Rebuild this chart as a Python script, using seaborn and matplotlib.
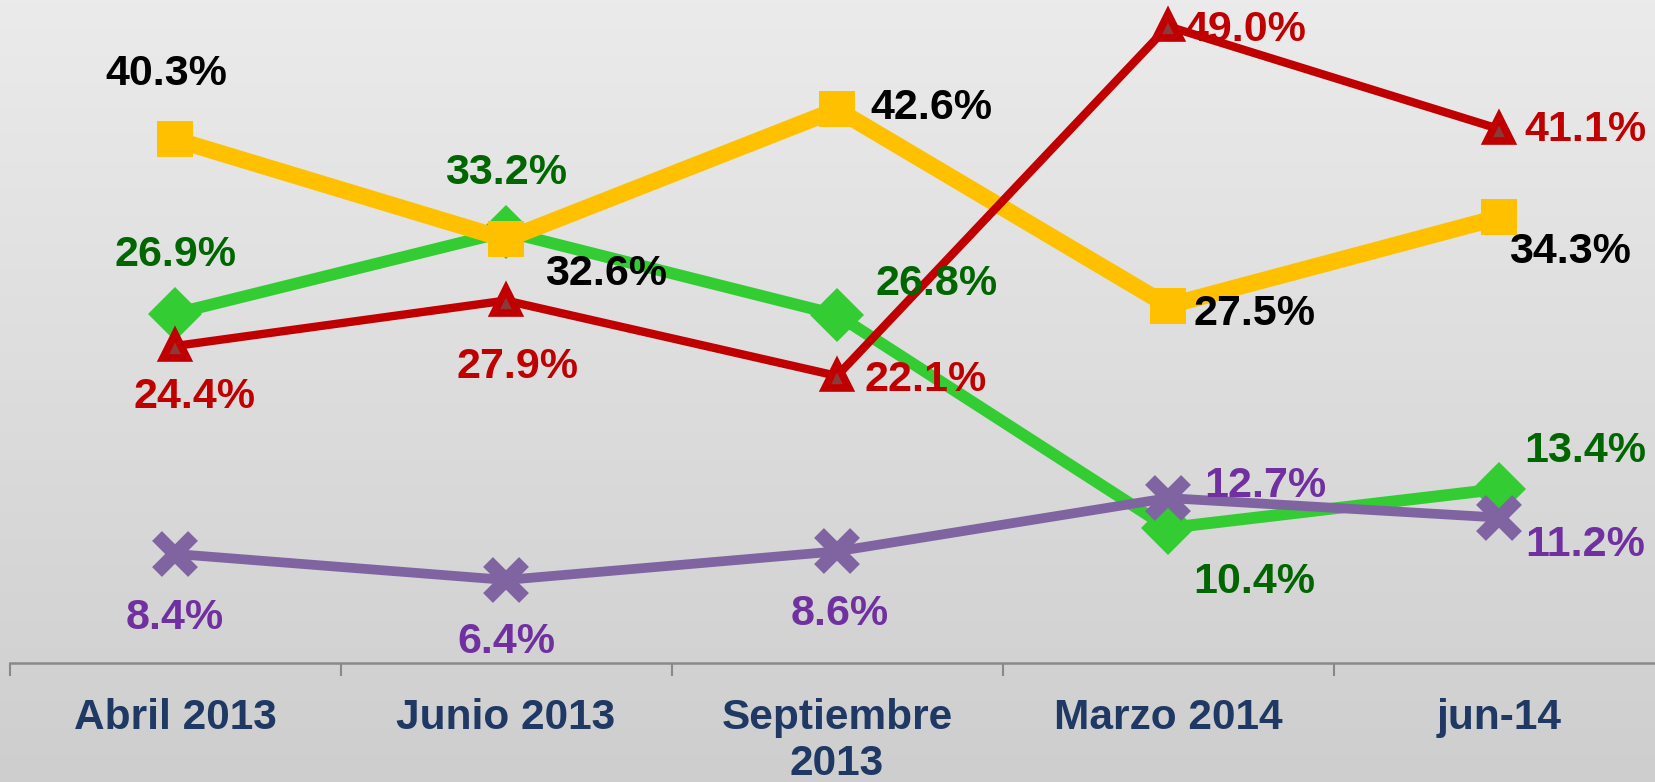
import numpy as np
import matplotlib
matplotlib.use("Agg")
import matplotlib.pyplot as plt
from matplotlib.ticker import FixedLocator, NullFormatter, FixedFormatter
import seaborn as sns

# data
periods = ["Abril 2013", "Junio 2013", "Septiembre\n2013", "Marzo 2014", "jun-14"]
yellow_vals = [40.3, 32.6, 42.6, 27.5, 34.3]
green_vals = [26.9, 33.2, 26.8, 10.4, 13.4]
red_vals = [24.4, 27.9, 22.1, 49.0, 41.1]
purple_vals = [8.4, 6.4, 8.6, 12.7, 11.2]

# label offsets (points) from each marker
yellow_off = [(-6, 47), (72, -25), (68, 1), (62, -6), (51, -25)]
green_off = [(0, 42), (0, 42), (72, 22), (62, -39), (62, 27)]
red_off = [(14, -37), (8, -48), (64, -3), (56, -3), (62, -1)]
purple_off = [(0, -46), (0, -45), (2, -45), (70, 9), (62, -20)]

sns.set_style("white")
plt.rcParams["font.family"] = ["Liberation Sans", "DejaVu Sans"]
plt.rcParams["font.weight"] = "bold"

fig = plt.figure(figsize=(16.56, 7.82), dpi=100)

# gradient background
bg = fig.add_axes([0, 0, 1, 1], zorder=-5)
grad = np.linspace(0, 1, 256).reshape(-1, 1)
bg.imshow(grad, aspect="auto", cmap=matplotlib.colors.LinearSegmentedColormap.from_list(
    "bg", ["#ebebeb", "#cecece"]), extent=[0, 1, 0, 1])
bg.set_axis_off()

ax = fig.add_axes([9.5 / 1656, 0.152, 1655 / 1656, 0.831])
ax.set_facecolor("none")

x = np.arange(len(periods))

series = [
    (green_vals, "#33cc33", dict(marker="D", markersize=27, markeredgewidth=0,
                                 markerfacecolor="#33cc33", lw=8.5), "#006600", green_off, 2),
    (yellow_vals, "#ffc000", dict(marker="s", markersize=26.5, markeredgewidth=0,
                                  markerfacecolor="#ffc000", lw=12), "black", yellow_off, 3),
    (red_vals, "#c00000", dict(marker="^", markersize=17, markeredgewidth=5.5,
                               markeredgecolor="#c00000", markerfacecolor="#8b3a3a",
                               lw=6), "#c00000", red_off, 4),
    (purple_vals, "#8064a2", dict(marker="x", markersize=26, markeredgewidth=10,
                                  markeredgecolor="#8064a2", lw=7), "#7030a0", purple_off, 5),
]

for vals, col, kws, lab_col, offs, z in series:
    sns.lineplot(x=x, y=vals, color=col, ax=ax, zorder=z, clip_on=False, **kws)
    for xi, v, off in zip(x, vals, offs):
        ax.annotate(f"{v:.1f}%", (xi, v), xytext=off, textcoords="offset points",
                    ha="center", va="center", fontsize=31, fontweight="bold",
                    color=lab_col, zorder=10, annotation_clip=False)

ax.set_xlim(-0.5, 4.5)
ax.set_ylim(0, 50)
ax.set_xlabel("")
ax.set_ylabel("")
ax.set_yticks([])

# boundaries get tick marks, centres get the labels
ax.xaxis.set_major_locator(FixedLocator(np.arange(-0.5, 5.0, 1.0)))
ax.xaxis.set_major_formatter(NullFormatter())
ax.xaxis.set_minor_locator(FixedLocator(x))
ax.xaxis.set_minor_formatter(FixedFormatter(periods))
ax.tick_params(axis="x", which="major", direction="out", length=9, width=1.5,
               color="#898989", bottom=True)
ax.tick_params(axis="x", which="minor", length=0, pad=25, labelsize=30.5,
               labelcolor="#1f3864")
for t in ax.xaxis.get_minorticklabels():
    t.set_fontweight("bold")
    t.set_linespacing(1.2)

for s in ["left", "top", "right"]:
    ax.spines[s].set_visible(False)
ax.spines["bottom"].set_color("#898989")
ax.spines["bottom"].set_linewidth(1.8)

fig.savefig("out.png", dpi=100)
